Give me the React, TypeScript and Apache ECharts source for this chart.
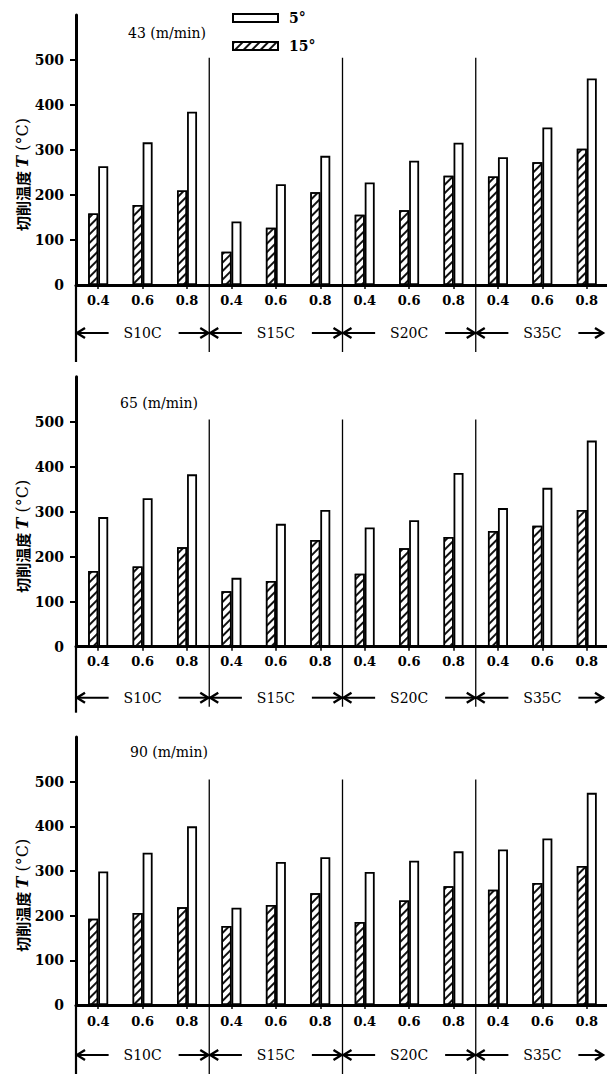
import React, { useEffect, useRef } from "react";
import * as echarts from "echarts";

// ---------- data ----------
const materials = ["S10C", "S15C", "S20C", "S35C"];
const feeds = ["0.4", "0.6", "0.8"];
const categories = materials.flatMap(() => feeds);
const speeds = ["43 (m/min)", "65 (m/min)", "90 (m/min)"];
const yTicks = [0, 100, 200, 300, 400, 500];

const v43_15 = [159, 178, 210, 74, 127, 206, 156, 166, 243, 241, 273, 303];
const v43_5 = [264, 317, 385, 141, 224, 287, 228, 276, 316, 284, 350, 459];
const v65_15 = [168, 178, 221, 123, 146, 237, 162, 219, 244, 257, 269, 304];
const v65_5 = [288, 330, 383, 153, 273, 304, 265, 281, 386, 308, 353, 458];
const v90_15 = [193, 206, 219, 177, 224, 250, 186, 234, 266, 258, 273, 311];
const v90_5 = [299, 341, 400, 218, 320, 331, 298, 323, 344, 348, 373, 475];

const series15 = [v43_15, v65_15, v90_15];
const series5 = [v43_5, v65_5, v90_5];

// ---------- layout ----------
const W = 607;
const H = 1074;
const L = 76;
const GW = 533;
const panels = [
  { top: 15, h: 270, labelMargin: 9, matOff: 48, sepBottom: 67, axisExt: 77, titleX: 128, titleY: 26 },
  { top: 376.7, h: 270, labelMargin: 8, matOff: 51, sepBottom: 60, axisExt: 66, titleX: 120, titleY: 396 },
  { top: 737, h: 268, labelMargin: 10, matOff: 50, sepBottom: 70, axisExt: 70, titleX: 130, titleY: 745 },
];
const YMAX = 600;
const SERIF = "'DejaVu Serif', 'Liberation Serif', serif";

const hatch = {
  symbol: "rect",
  symbolSize: 1,
  color: "#111",
  dashArrayX: [1, 0],
  dashArrayY: [2, 4],
  rotation: -Math.PI / 4,
};

export default function App() {
  const ref = useRef<HTMLDivElement>(null);

  useEffect(() => {
    if (!ref.current) return;
    const chart = echarts.init(ref.current, null, { renderer: "svg" });
    const band = GW / categories.length;

    const graphic: any[] = [];
    panels.forEach((p) => {
      const zero = p.top + p.h;
      const scale = p.h / YMAX;
      graphic.push({
        type: "line",
        shape: { x1: L, y1: zero, x2: L, y2: zero + p.axisExt },
        style: { stroke: "#000", lineWidth: 2.2 },
      });
      [3, 6, 9].forEach((idx) => {
        const x = L + band * idx;
        graphic.push({
          type: "line",
          shape: { x1: x, y1: zero - 505 * scale, x2: x, y2: zero + p.sepBottom },
          style: { stroke: "#000", lineWidth: 1.3 },
        });
      });
      materials.forEach((m, g) => {
        const bL = L + band * 3 * g;
        let bR = L + band * 3 * (g + 1);
        if (bR > W - 3) bR = W - 3;
        const c = (L + band * 3 * g + L + band * 3 * (g + 1)) / 2;
        const y = zero + p.matOff;
        graphic.push({
          type: "text",
          x: c,
          y,
          style: {
            text: m,
            font: `14px ${SERIF}`,
            fill: "#000",
            align: "center",
            verticalAlign: "middle",
          },
        });
        graphic.push({
          type: "line",
          shape: { x1: bL, y1: y, x2: c - 34, y2: y },
          style: { stroke: "#000", lineWidth: 2 },
        });
        graphic.push({
          type: "polyline",
          shape: { points: [[bL + 9, y - 5], [bL + 1, y], [bL + 9, y + 5]] },
          style: { stroke: "#000", lineWidth: 2.4, fill: null },
        });
        graphic.push({
          type: "line",
          shape: { x1: c + 36, y1: y, x2: bR, y2: y },
          style: { stroke: "#000", lineWidth: 2 },
        });
        graphic.push({
          type: "polyline",
          shape: { points: [[bR - 9, y - 5], [bR - 1, y], [bR - 9, y + 5]] },
          style: { stroke: "#000", lineWidth: 2.4, fill: null },
        });
      });
      graphic.push({
        type: "text",
        x: 22,
        y: zero - 250 * scale + 2,
        rotation: Math.PI / 2,
        style: {
          text: "{a|切削温度} {b|T}{c| (°C)}",
          align: "center",
          verticalAlign: "middle",
          rich: {
            a: { fontFamily: "'Noto Sans CJK SC', sans-serif", fontSize: 15, fontWeight: "bold", fill: "#000" },
            b: { fontFamily: SERIF, fontSize: 16, fontStyle: "italic", fontWeight: "bold", fill: "#000" },
            c: { fontFamily: SERIF, fontSize: 16, fill: "#000" },
          },
        },
      });
    });

    const option: any = {
      animation: false,
      backgroundColor: "#fff",
      title: panels.map((p, i) => ({
        text: speeds[i],
        left: p.titleX,
        top: p.titleY,
        padding: 0,
        textStyle: { fontFamily: SERIF, fontSize: 14, fontWeight: "normal", color: "#000" },
      })),
      legend: {
        orient: "vertical",
        left: 232,
        top: 11,
        padding: 0,
        itemWidth: 45,
        itemHeight: 8,
        itemGap: 14,
        icon: "rect",
        data: ["5°", "15°"],
        textStyle: { fontFamily: SERIF, fontSize: 14, fontWeight: "bold", color: "#000", padding: [0, 0, 0, 6] },
      },
      grid: panels.map((p) => ({
        left: L,
        top: p.top,
        width: GW,
        height: p.h,
        outerBoundsMode: "none",
        containLabel: false,
      })),
      xAxis: panels.map((p, i) => ({
        type: "category",
        gridIndex: i,
        data: categories,
        axisLine: { show: true, lineStyle: { color: "#000", width: 3 } },
        axisTick: { show: true, alignWithLabel: true, length: 4, lineStyle: { color: "#000", width: 1.5 } },
        axisLabel: {
          interval: 0,
          margin: p.labelMargin,
          fontFamily: SERIF,
          fontSize: 13,
          fontWeight: "bold",
          color: "#000",
        },
        splitLine: { show: false },
      })),
      yAxis: panels.map((p, i) => ({
        type: "value",
        gridIndex: i,
        min: 0,
        max: YMAX,
        interval: 100,
        axisLine: { show: true, lineStyle: { color: "#000", width: 3 } },
        axisTick: {
          show: true,
          length: 6,
          customValues: yTicks.filter((v) => v > 0),
          lineStyle: { color: "#000", width: 2 },
        },
        axisLabel: {
          customValues: yTicks,
          margin: 12,
          fontFamily: SERIF,
          fontSize: 14,
          fontWeight: "bold",
          color: "#000",
        },
        splitLine: { show: false },
      })),
      series: panels.flatMap((p, i) => [
        {
          name: "15°",
          type: "bar",
          xAxisIndex: i,
          yAxisIndex: i,
          data: series15[i],
          barWidth: 10,
          barGap: "0%",
          itemStyle: { color: "#fff", borderColor: "#000", borderWidth: 1.5, decal: hatch },
        },
        {
          name: "5°",
          type: "bar",
          xAxisIndex: i,
          yAxisIndex: i,
          data: series5[i],
          barWidth: 10,
          barGap: "0%",
          itemStyle: { color: "#fff", borderColor: "#000", borderWidth: 1.8 },
        },
      ]),
      graphic,
    };

    chart.setOption(option);
    return () => chart.dispose();
  }, []);

  return (
    <div
      ref={ref}
      style={{ position: "absolute", left: 0, top: 0, width: W, height: H, overflow: "hidden" }}
    />
  );
}
